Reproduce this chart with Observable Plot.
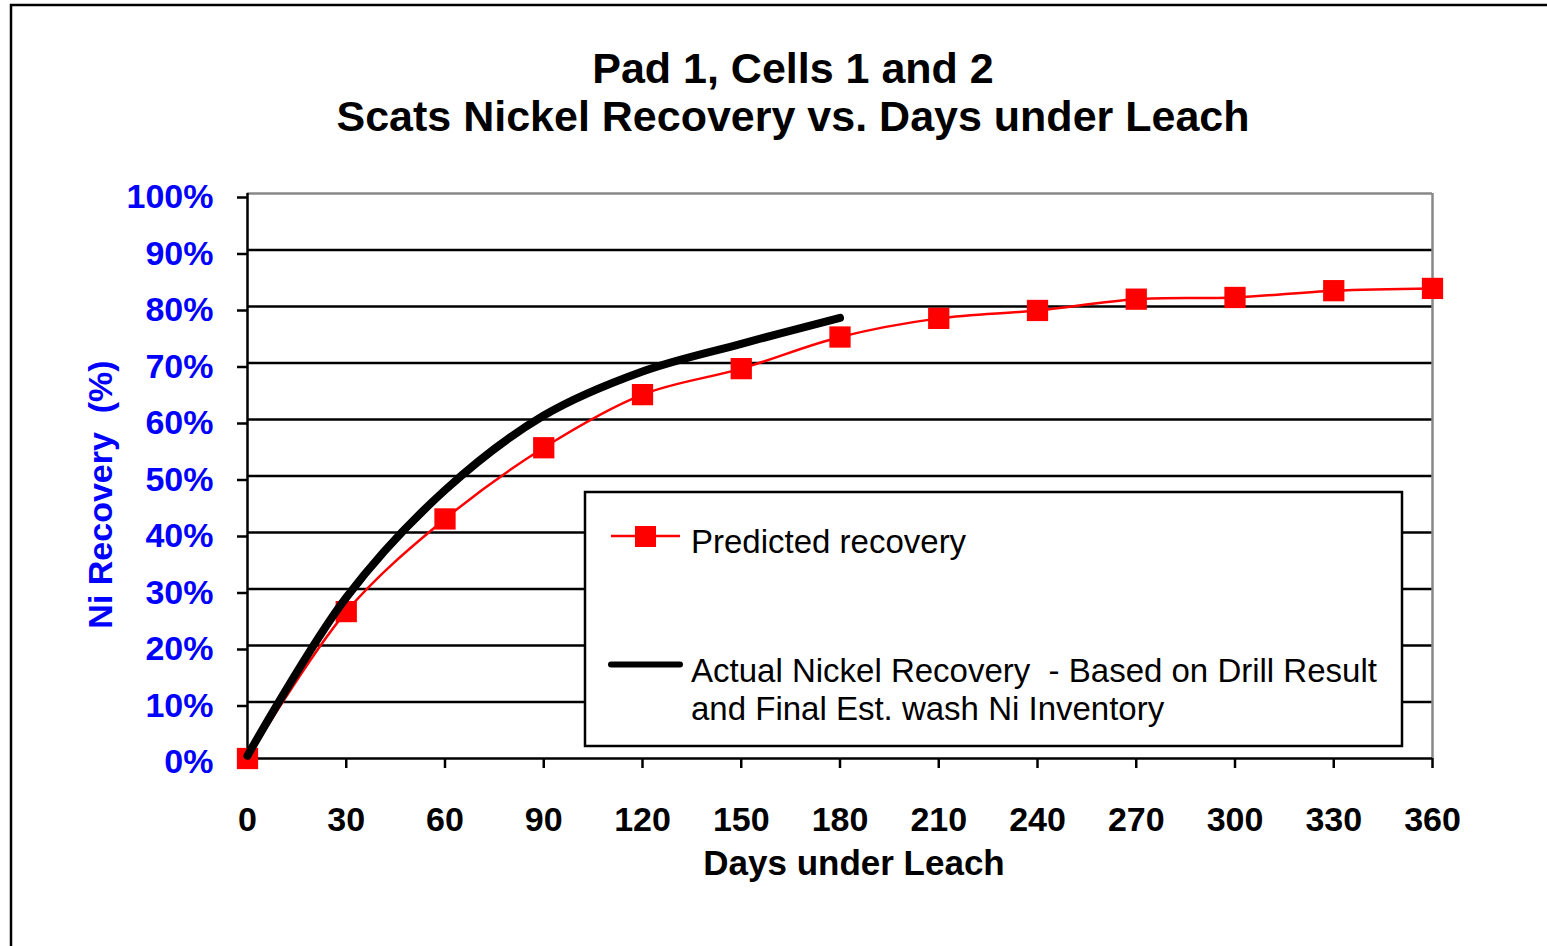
<!DOCTYPE html>
<html>
<head>
<meta charset="utf-8">
<script src="https://cdn.jsdelivr.net/npm/d3@7"></script>
<script src="https://cdn.jsdelivr.net/npm/@observablehq/plot@0.6"></script>
<style>
  html, body { margin: 0; padding: 0; background: #fff; overflow: hidden; }
  #wrap { position: relative; width: 1547px; height: 946px; }
  #wrap > svg { position: absolute; left: 0; top: 0; }
  #overlay { pointer-events: none; }
</style>
</head>
<body>
<div id="wrap"></div>
<script>
// ---- data ----
const days = [0, 30, 60, 90, 120, 150, 180, 210, 240, 270, 300, 330, 360];
const predicted = [0.0, 26.0, 42.4, 55.0, 64.4, 69.0, 74.6, 77.9, 79.3, 81.3, 81.6, 82.8, 83.2];
const actualDays = [0, 30, 60, 90, 120, 150, 180];
const actual = [0.5, 28.5, 47.5, 60.7, 68.5, 73.4, 78.0];
const xTicks = [0, 30, 60, 90, 120, 150, 180, 210, 240, 270, 300, 330, 360];
const yTicks = [0, 10, 20, 30, 40, 50, 60, 70, 80, 90, 100];
const titleLines = ["Pad 1, Cells 1 and 2", "Scats Nickel Recovery vs. Days under Leach"];
const xLabel = "Days under Leach";
const yLabel = "Ni Recovery  (%)";
const legendPredicted = "Predicted recovery";
const legendActual = ["Actual Nickel Recovery  - Based on Drill Result", "and Final Est. wash Ni Inventory"];

const predData = days.map((d, i) => ({day: d, value: predicted[i]}));
const actData = actualDays.map((d, i) => ({day: d, value: actual[i]}));

const FONT = "'Liberation Sans', Arial, Helvetica, sans-serif";

const chart = Plot.plot({
  width: 1547,
  height: 946,
  marginLeft: 247,
  marginRight: 115,
  marginTop: 193,
  marginBottom: 188,
  style: {fontFamily: FONT, background: "transparent", overflow: "visible"},
  x: {domain: [0, 360]},
  y: {domain: [0, 100]},
  marks: [
    Plot.ruleY(yTicks.filter(d => d > 0 && d < 100), {stroke: "#000", strokeWidth: 2.5}),
    Plot.ruleY([100], {stroke: "#888", strokeWidth: 2.5}),
    Plot.ruleX([360], {stroke: "#888", strokeWidth: 2.5}),
    Plot.axisX({ticks: xTicks, tickSize: 10, tickPadding: 38, tickFormat: d => String(d),
      fontSize: 34, fontWeight: "bold", fill: "#000", stroke: "#000", strokeWidth: 2.5, label: null}),
    Plot.axisY({ticks: yTicks, tickSize: 10, tickPadding: 24, tickFormat: d => d + "%",
      fontSize: 34, fontWeight: "bold", fill: "#0000FF", stroke: "#000", strokeWidth: 2.5, label: null, dy: 4}),
    Plot.ruleX([0], {stroke: "#000", strokeWidth: 2.5}),
    Plot.ruleY([0], {stroke: "#000", strokeWidth: 2.5}),
    Plot.line(predData, {x: "day", y: "value", stroke: "#FF0000", strokeWidth: 2.5, curve: "catmull-rom"}),
    Plot.dot(predData, {x: "day", y: "value", symbol: "square", r: 12, fill: "#FF0000", stroke: "none"}),
    Plot.line(actData, {x: "day", y: "value", stroke: "#000", strokeWidth: 8, curve: "catmull-rom", strokeLinecap: "round"})
  ]
});

const wrap = document.getElementById("wrap");
wrap.appendChild(chart);

// ---- overlay: frame, titles, axis labels, legend ----
const ov = d3.select(wrap).append("svg")
  .attr("id", "overlay")
  .attr("width", 1547).attr("height", 946)
  .style("font-family", FONT);

ov.append("rect").attr("x", 11).attr("y", 5).attr("width", 1600).attr("height", 1000)
  .attr("fill", "none").attr("stroke", "#000").attr("stroke-width", 2.5);

ov.selectAll("text.title").data(titleLines).join("text")
  .attr("class", "title")
  .attr("x", 793).attr("y", (d, i) => i === 0 ? 83 : 131)
  .attr("text-anchor", "middle")
  .attr("font-size", 43).attr("font-weight", "bold").attr("fill", "#000")
  .text(d => d);

ov.append("text")
  .attr("x", 854).attr("y", 875)
  .attr("text-anchor", "middle")
  .attr("font-size", 35).attr("font-weight", "bold").attr("fill", "#000")
  .text(xLabel);

ov.append("text")
  .attr("transform", "translate(112,494.5) rotate(-90)")
  .attr("text-anchor", "middle")
  .attr("font-size", 34).attr("font-weight", "bold").attr("fill", "#0000FF")
  .style("white-space", "pre")
  .attr("xml:space", "preserve")
  .text(yLabel);

// legend
const lg = ov.append("g");
lg.append("rect").attr("x", 585).attr("y", 492).attr("width", 817).attr("height", 254)
  .attr("fill", "#fff").attr("stroke", "#000").attr("stroke-width", 2.5);
lg.append("line").attr("x1", 611).attr("x2", 680).attr("y1", 536).attr("y2", 536)
  .attr("stroke", "#FF0000").attr("stroke-width", 2.5);
lg.append("rect").attr("x", 635).attr("y", 526).attr("width", 21).attr("height", 21).attr("fill", "#FF0000");
lg.append("text").attr("x", 691).attr("y", 552.5).attr("font-size", 33).attr("fill", "#000").text(legendPredicted);
lg.append("line").attr("x1", 611).attr("x2", 680).attr("y1", 664.5).attr("y2", 664.5)
  .attr("stroke", "#000").attr("stroke-width", 6).attr("stroke-linecap", "round");
lg.selectAll("text.act").data(legendActual).join("text")
  .attr("class", "act")
  .attr("x", 691).attr("y", (d, i) => i === 0 ? 682 : 719.5)
  .attr("font-size", 33).attr("fill", "#000")
  .attr("xml:space", "preserve").style("white-space", "pre")
  .text(d => d);
</script>
</body>
</html>
